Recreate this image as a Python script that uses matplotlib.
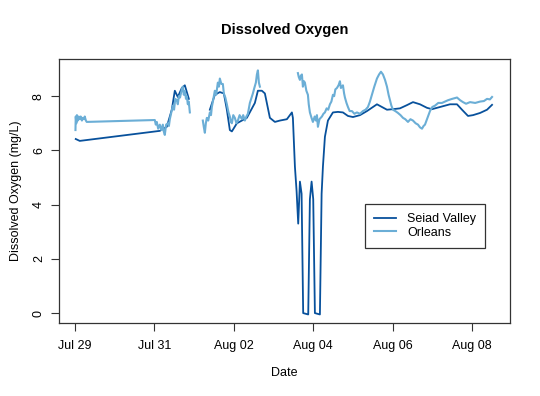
import numpy as np
import matplotlib
matplotlib.use("Agg")
import matplotlib.pyplot as plt

nan = np.nan

# days since Jul 29 00:00, dissolved oxygen (mg/L)
seiad_day = [0.025, 0.126, 2.141, 2.317, 2.443, 2.519, 2.594, 2.695, 2.771, 2.872, 3.1,
             3.401, 3.526, 3.652, 3.753, 3.829, 3.904, 3.955, 4.081, 4.332, 4.534, 4.610,
             4.710, 4.786, 4.912, 5.038, 5.164, 5.340, 5.466, 5.491, 5.542, 5.584, 5.625,
             5.668, 5.710, 5.750, 5.877, 5.919, 5.962, 6.003, 6.045, 6.171, 6.214, 6.247,
             6.297, 6.373, 6.499, 6.625, 6.751, 6.877, 7.003, 7.179, 7.355, 7.607, 7.733,
             7.859, 8.010, 8.186, 8.363, 8.514, 8.690, 8.866, 8.992, 9.194, 9.446, 9.622,
             9.748, 9.899, 10.025, 10.202, 10.378, 10.504]
seiad_do = [6.42, 6.35, 6.72, 6.87, 7.5, 8.2, 7.97, 8.3, 8.4, 7.9, nan,
            7.5, 8.05, 8.15, 8.1, 7.5, 6.75, 6.7, 7.0, 7.2, 7.75, 8.2,
            8.2, 8.1, 7.2, 7.05, 7.1, 7.15, 7.4, 7.2, 5.4, 4.5, 3.3,
            4.85, 4.4, 0.0, -0.05, 4.2, 4.85, 4.2, 0.0, -0.05, 4.4, 5.4,
            6.5, 7.1, 7.4, 7.42, 7.4, 7.27, 7.23, 7.3, 7.45, 7.7, 7.6,
            7.5, 7.52, 7.55, 7.67, 7.78, 7.7, 7.57, 7.52, 7.6, 7.7, 7.7,
            7.5, 7.27, 7.3, 7.38, 7.5, 7.68]

orleans_day = [0.018, 0.025, 0.04, 0.055, 0.076, 0.10, 0.126, 0.15, 0.18, 0.202, 0.23,
               0.252, 0.28, 0.302, 2.015, 2.04, 2.065, 2.10, 2.141, 2.18, 2.217, 2.24,
               2.267, 2.30, 2.343, 2.37, 2.393, 2.43, 2.469, 2.50, 2.53, 2.569, 2.594,
               2.62, 2.65, 2.695, 2.720, 2.745, 2.771, 2.80, 2.821, 2.846, 2.87, 2.897,
               3.0,
               3.224, 3.25, 3.275, 3.30, 3.325, 3.36, 3.401, 3.43, 3.451, 3.49, 3.526,
               3.56, 3.602, 3.63, 3.652, 3.69, 3.728, 3.753, 3.79, 3.829, 3.87, 3.904,
               3.93, 3.955, 3.99, 4.030, 4.07, 4.106, 4.15, 4.207, 4.24, 4.282, 4.32,
               4.358, 4.384, 4.408, 4.45, 4.484, 4.52, 4.559, 4.585, 4.610, 4.635, 4.660,
               5.0,
               5.617, 5.64, 5.668, 5.69, 5.718, 5.743, 5.77, 5.793, 5.83, 5.869, 5.89,
               5.919, 5.96, 5.995, 6.04, 6.07, 6.096, 6.121, 6.16, 6.222, 6.26, 6.297,
               6.34, 6.38, 6.423, 6.46, 6.499, 6.53, 6.56, 6.599, 6.64, 6.675, 6.70,
               6.751, 6.78, 6.801, 6.84, 6.877, 6.92, 6.977, 7.04, 7.103, 7.18, 7.254,
               7.32, 7.380, 7.43, 7.481, 7.54, 7.607, 7.66, 7.708, 7.758, 7.81, 7.859,
               7.90, 7.935, 7.97, 8.010, 8.07, 8.136, 8.20, 8.262, 8.32, 8.388, 8.45,
               8.514, 8.58, 8.640, 8.69, 8.741, 8.78, 8.816, 8.88, 8.942, 9.00, 9.068,
               9.15, 9.244, 9.32, 9.395, 9.50, 9.622, 9.70, 9.773, 9.85, 9.950, 10.08,
               10.202, 10.30, 10.378, 10.45, 10.504]
orleans_do = [6.75, 7.25, 7.0, 7.3, 7.1, 7.25, 7.15, 7.25, 7.1, 7.2, 7.15,
              7.25, 7.1, 7.05, 7.12, 6.95, 7.05, 6.8, 6.95, 6.75, 6.95, 6.7,
              6.57, 6.95, 7.0, 6.9, 7.15, 7.4, 7.65, 7.5, 7.9, 7.85, 7.7,
              8.0, 7.95, 8.25, 8.35, 8.05, 8.2, 7.9, 8.0, 7.7, 7.8, 7.4,
              nan,
              7.1, 6.85, 6.65, 7.0, 7.2, 7.1, 7.4, 7.3, 7.6, 7.9, 8.2,
              8.05, 8.5, 8.35, 8.65, 8.45, 8.45, 8.1, 7.95, 7.7, 7.4, 7.25,
              7.05, 7.0, 7.3, 7.2, 7.0, 7.1, 7.3, 7.15, 7.3, 7.1, 7.25,
              7.35, 7.55, 7.75, 7.95, 8.1, 8.3, 8.5, 8.8, 8.95, 8.5, 8.35,
              nan,
              8.85, 8.7, 8.6, 8.75, 8.8, 8.35, 8.55, 8.5, 8.2, 8.05, 7.7,
              7.4, 7.2, 7.05, 7.25, 7.1, 7.3, 6.87, 7.15, 7.25, 7.35, 7.4,
              7.55, 7.5, 7.7, 7.8, 8.05, 8.0, 8.25, 8.3, 8.4, 8.55, 8.3,
              8.4, 8.1, 7.95, 7.75, 7.6, 7.45, 7.45, 7.35, 7.4, 7.35, 7.45,
              7.5, 7.6, 7.8, 8.05, 8.35, 8.65, 8.8, 8.9, 8.8, 8.6, 8.35,
              8.05, 7.85, 7.65, 7.5, 7.45, 7.38, 7.3, 7.2, 7.15, 7.05, 7.15,
              7.1, 7.0, 6.95, 6.85, 6.8, 6.9, 6.95, 7.2, 7.45, 7.6, 7.65,
              7.75, 7.75, 7.8, 7.85, 7.9, 7.95, 7.85, 7.78, 7.72, 7.78, 7.75,
              7.8, 7.82, 7.9, 7.88, 7.97]

tick_days = [0, 2, 4, 6, 8, 10]
tick_labels = ["Jul 29", "Jul 31", "Aug 02", "Aug 04", "Aug 06", "Aug 08"]

plt.rcParams['font.family'] = ['Liberation Sans', 'DejaVu Sans']

fig = plt.figure(figsize=(5.4, 3.96), dpi=100)
ax = fig.add_axes([0.109, 0.184, 0.835, 0.667])

ax.plot(seiad_day, seiad_do, color='#08519C', lw=1.3, label='Seiad Valley')
ax.plot(orleans_day, orleans_do, color='#6BAED6', lw=1.5, label='Orleans')

ax.set_xlim(-0.40, 10.95)
ax.set_ylim(-0.37, 9.37)
ax.set_xticks(tick_days)
ax.set_xticklabels(tick_labels)
ax.set_yticks([0, 2, 4, 6, 8])
ax.set_yticklabels(['0', '2', '4', '6', '8'], rotation=90, va='center')
ax.tick_params(length=6, width=0.8, labelsize=9, color='#333333')
ax.tick_params(axis='x', pad=6)
ax.tick_params(axis='y', pad=4)
for s in ax.spines.values():
    s.set_color('#333333')
    s.set_linewidth(0.9)

ax.set_xlabel('Date', fontsize=9, labelpad=11)
ax.set_ylabel('Dissolved Oxygen (mg/L)', fontsize=9, labelpad=8)
ax.set_title('Dissolved Oxygen', fontsize=10.5, fontweight='bold', pad=18)

leg = ax.legend(loc='upper left', bbox_to_anchor=(0.678, 0.451), borderaxespad=0,
                fontsize=9, fancybox=False, framealpha=1, edgecolor='#333333',
                handlelength=1.75, borderpad=0.75, labelspacing=0.1, handletextpad=0.9)
leg.get_frame().set_linewidth(0.9)

fig.savefig('out.png', dpi=100)
